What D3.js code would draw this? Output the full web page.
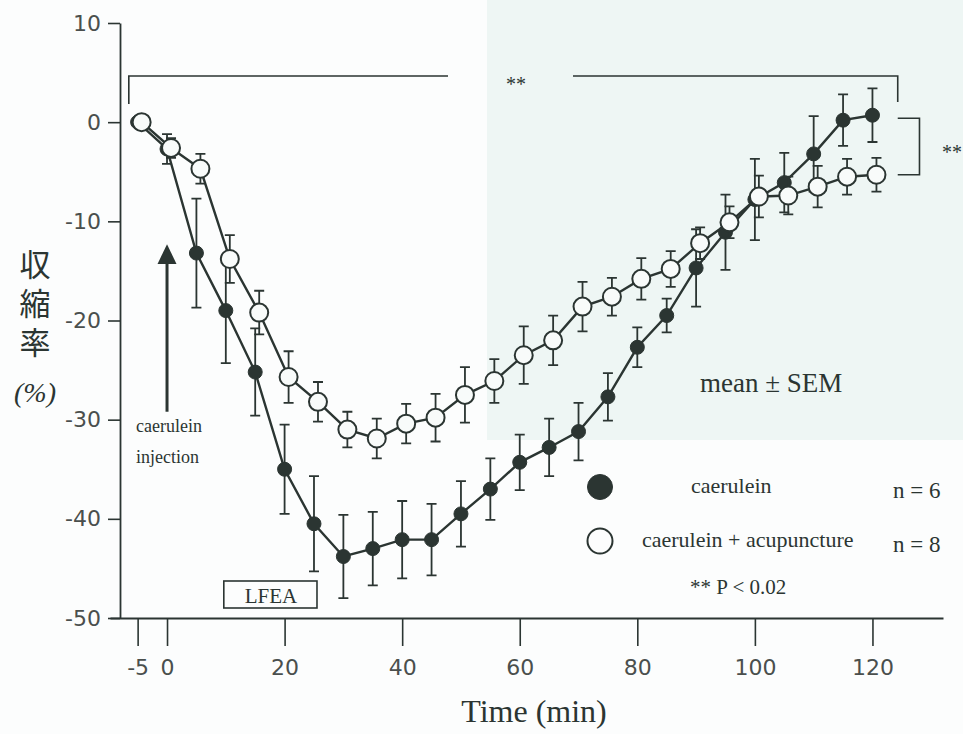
<!DOCTYPE html>
<html>
<head>
<meta charset="utf-8">
<script src="https://cdn.jsdelivr.net/npm/d3@7"></script>
<style>
  body { margin: 0; background: #fcfdfd; }
  svg { display: block; }
</style>
</head>
<body>
<div id="chart"></div>
<script>
var w = 963;
var h = 734;

// time points (min)
var times = [-5, 0, 5, 10, 15, 20, 25, 30, 35, 40, 45, 50, 55, 60, 65, 70, 75, 80, 85, 90, 95, 100, 105, 110, 115, 120];

// caerulein (filled), mean and SEM
var caeruleinMean = [0, -2.7, -13.2, -19.0, -25.2, -35.0, -40.5, -43.8, -43.0, -42.1, -42.1, -39.5, -37.0, -34.3, -32.8, -31.2, -27.7, -22.7, -19.5, -14.7, -11.1, -7.8, -6.1, -3.2, 0.2, 0.7];
var caeruleinSem = [0, 1.5, 5.5, 5.3, 4.4, 4.5, 4.8, 4.2, 3.7, 3.9, 3.6, 3.3, 3.1, 2.8, 2.9, 2.9, 2.4, 2.0, 1.7, 3.9, 3.8, 4.1, 3.0, 3.8, 2.6, 2.7];

// caerulein + acupuncture (open), mean and SEM
var acuMean = [0, -2.6, -4.7, -13.8, -19.2, -25.7, -28.2, -31.0, -31.9, -30.4, -29.8, -27.5, -26.1, -23.5, -22.0, -18.6, -17.6, -15.8, -14.8, -12.2, -10.1, -7.5, -7.4, -6.5, -5.5, -5.3];
var acuSem = [0, 1.0, 1.5, 2.4, 2.2, 2.6, 2.0, 1.8, 2.0, 2.0, 2.4, 2.8, 2.2, 2.9, 2.5, 2.5, 1.9, 2.1, 1.8, 1.6, 1.6, 2.1, 1.9, 2.1, 1.8, 1.7];

var xTicks = [-5, 0, 20, 40, 60, 80, 100, 120];
var yTicks = [10, 0, -10, -20, -30, -40, -50];

var lfea = [10, 25];          // acupuncture period
var injectionTime = 0;
var sigSpan = [-6.5, 124.3];  // top significance bracket

var ink = "#2b3532";
var serif = "'Liberation Serif', 'DejaVu Serif', serif";
var sans = "'DejaVu Sans', 'Noto Sans', sans-serif";

var x = d3.scaleLinear().domain([-9.7, 132]).range([110, 943]);
var y = d3.scaleLinear().domain([-50, 10]).range([618, 23]);

var svg = d3.select("#chart").append("svg")
  .attr("width", w)
  .attr("height", h);

// scanned page tint
svg.append("rect").attr("x", 0).attr("y", 0).attr("width", w).attr("height", h).attr("fill", "#fcfdfd");
svg.append("rect").attr("x", 487).attr("y", 0).attr("width", w - 487).attr("height", 440).attr("fill", "#eef6f4");

function series(mean, sem) {
  return times.map(function (t, i) {
    return { t: t, m: mean[i], se: sem[i] };
  });
}
var filled = series(caeruleinMean, caeruleinSem);
var open = series(acuMean, acuSem);

// axes (plain hyphen minus like the original)
var fmt = function (d) { return String(d); };

var yAxis = svg.append("g")
  .attr("transform", "translate(120,0)")
  .call(d3.axisLeft(y).tickValues(yTicks).tickFormat(fmt).tickSize(12).tickSizeOuter(0).tickPadding(7));

var xAxis = svg.append("g")
  .attr("transform", "translate(0," + y(-50) + ")")
  .call(d3.axisBottom(x).tickValues(xTicks).tickFormat(fmt).tickSize(28).tickSizeOuter(0).tickPadding(9));

[yAxis, xAxis].forEach(function (g) {
  g.select(".domain").attr("stroke", ink).attr("stroke-width", 1.8);
  g.selectAll(".tick line").attr("stroke", ink).attr("stroke-width", 1.6);
  g.selectAll(".tick text")
    .attr("fill", "#4a4f4d")
    .style("font-family", sans)
    .style("font-size", "22px");
});
xAxis.selectAll(".tick text").attr("dy", "0.9em");

// axis titles (vertical Japanese label)
svg.append("text")
  .attr("x", 35).attr("y", 249)
  .attr("fill", ink)
  .style("font-family", "'Noto Sans CJK JP', sans-serif")
  .style("font-size", "31px")
  .style("writing-mode", "vertical-rl")
  .style("text-orientation", "upright")
  .style("letter-spacing", "8px")
  .text("収縮率");

svg.append("text")
  .attr("x", 35).attr("y", 402)
  .attr("text-anchor", "middle")
  .attr("fill", ink)
  .style("font-family", serif)
  .style("font-style", "italic")
  .style("font-size", "28px")
  .text("(%)");

svg.append("text")
  .attr("x", 534).attr("y", 722)
  .attr("text-anchor", "middle")
  .attr("fill", ink)
  .style("font-family", serif)
  .style("font-size", "32px")
  .text("Time (min)");

// significance brackets
var barTop = 76;
svg.append("path")
  .attr("d", "M" + x(sigSpan[0]) + "," + 104 + "V" + barTop + "H" + 448 +
    "M" + 573 + "," + barTop + "H" + x(sigSpan[1]) + "V" + 102)
  .attr("fill", "none").attr("stroke", ink).attr("stroke-width", 1.6);
svg.append("text")
  .attr("x", 516).attr("y", 91)
  .attr("text-anchor", "middle")
  .attr("fill", ink)
  .style("font-family", serif).style("font-size", "20px")
  .text("**");

var last = times.length - 1;
svg.append("path")
  .attr("d", "M" + x(124.3) + "," + y(caeruleinMean[last] - 0.3) + "H" + x(128) +
    "V" + y(acuMean[last]) + "H" + x(124.3))
  .attr("fill", "none").attr("stroke", ink).attr("stroke-width", 1.6);
svg.append("text")
  .attr("x", 952).attr("y", 159)
  .attr("text-anchor", "middle")
  .attr("fill", ink)
  .style("font-family", serif).style("font-size", "20px")
  .text("**");

// injection arrow
var ax = x(injectionTime);
svg.append("line")
  .attr("x1", ax).attr("x2", ax)
  .attr("y1", y(-14)).attr("y2", y(-29.2))
  .attr("stroke", ink).attr("stroke-width", 3);
svg.append("path")
  .attr("d", "M" + ax + "," + y(-12.3) + "L" + (ax + 9.5) + "," + y(-14.3) + "L" + (ax - 9.5) + "," + y(-14.3) + "Z")
  .attr("fill", ink);
svg.selectAll(".inj")
  .data(["caerulein", "injection"])
  .join("text")
  .attr("class", "inj")
  .attr("x", 136)
  .attr("y", function (d, i) { return 432 + i * 31; })
  .attr("fill", ink)
  .style("font-family", serif).style("font-size", "18px")
  .text(function (d) { return d; });

// LFEA box
svg.append("rect")
  .attr("x", x(lfea[0]) - 2).attr("y", 581)
  .attr("width", x(lfea[1]) - x(lfea[0]) + 5).attr("height", 27)
  .attr("fill", "none").attr("stroke", ink).attr("stroke-width", 1.6);
svg.append("text")
  .attr("x", (x(lfea[0]) + x(lfea[1])) / 2 + 1).attr("y", 603)
  .attr("text-anchor", "middle")
  .attr("fill", ink)
  .style("font-family", serif).style("font-size", "21px")
  .text("LFEA");

// series drawing
var line = d3.line()
  .x(function (d) { return x(d.t); })
  .y(function (d) { return y(d.m); });

function drawSeries(data, dx, r, isOpen) {
  var g = svg.append("g").attr("transform", "translate(" + dx + ",0)");
  var bars = data.filter(function (d) { return d.se > 0; });
  g.selectAll(".bar")
    .data(bars)
    .join("path")
    .attr("d", function (d) {
      var cx = x(d.t), y1 = y(d.m + d.se), y2 = y(d.m - d.se);
      return "M" + cx + "," + y1 + "V" + y2 +
        "M" + (cx - 5) + "," + y1 + "H" + (cx + 5) +
        "M" + (cx - 5) + "," + y2 + "H" + (cx + 5);
    })
    .attr("fill", "none").attr("stroke", ink).attr("stroke-width", 1.8);
  g.append("path")
    .datum(data)
    .attr("d", line)
    .attr("fill", "none").attr("stroke", ink).attr("stroke-width", 2.4);
  g.selectAll("circle")
    .data(data)
    .join("circle")
    .attr("cx", function (d) { return x(d.t); })
    .attr("cy", function (d) { return y(d.m); })
    .attr("r", r)
    .attr("fill", isOpen ? "#f8fbfa" : ink)
    .attr("stroke", ink)
    .attr("stroke-width", isOpen ? 2 : 1);
}

drawSeries(filled, 0, 7, false);
drawSeries(open, 4, 9, true);

// legend
svg.append("text")
  .attr("x", 700).attr("y", 392)
  .attr("fill", ink)
  .style("font-family", serif).style("font-size", "27px")
  .text("mean \u00b1 SEM");

var legend = [
  { label: "caerulein", n: "n = 6", open: false, lx: 691, y: 487 },
  { label: "caerulein + acupuncture", n: "n = 8", open: true, lx: 642, y: 541 }
];
legend.forEach(function (d) {
  svg.append("circle")
    .attr("cx", 600).attr("cy", d.y).attr("r", 12.5)
    .attr("fill", d.open ? "#fcfdfd" : ink)
    .attr("stroke", ink).attr("stroke-width", d.open ? 2 : 1);
  svg.append("text")
    .attr("x", d.lx).attr("y", d.y + 6)
    .attr("fill", ink)
    .style("font-family", serif).style("font-size", "22px")
    .text(d.label);
  svg.append("text")
    .attr("x", 893).attr("y", d.y + 11)
    .attr("fill", ink)
    .style("font-family", serif).style("font-size", "23px")
    .text(d.n);
});

svg.append("text")
  .attr("x", 690).attr("y", 594)
  .attr("fill", ink)
  .style("font-family", serif).style("font-size", "21px")
  .text("** P < 0.02");
</script>
</body>
</html>
